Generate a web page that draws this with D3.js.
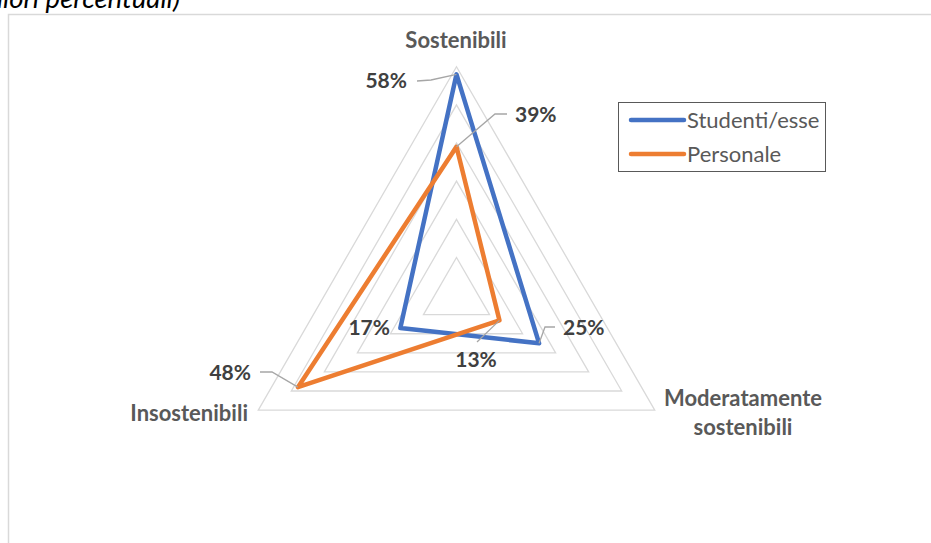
<!DOCTYPE html>
<html><head><meta charset="utf-8">
<script src="https://cdn.jsdelivr.net/npm/d3@7"></script>
<style>html,body{margin:0;padding:0;background:#fff;}svg{display:block;}</style>
</head><body>
<svg id="c" width="931" height="543"></svg>
<script>
const categories = ["Sostenibili", "Moderatamente sostenibili", "Insostenibili"];
const seriesNames = ["Studenti/esse", "Personale"];
const studenti = [58, 25, 17];
const personale = [39, 13, 48];
const gridLevels = [10, 20, 30, 40, 50, 60];
const titleText = "(valori percentuali)";

const colors = ["#4472C4", "#ED7D31"];
const series = [studenti, personale];
const FONT = "Lato, 'Open Sans', sans-serif";

const svg = d3.select("#c");
const cx = 456.5, cy = 295.6, R = 228.9;
const r = d3.scaleLinear().domain([0, 60]).range([0, R]);
const ang = d3.scaleLinear().domain([0, categories.length]).range([-Math.PI/2, 1.5*Math.PI]);
const pt = (i, v) => [cx + r(v)*Math.cos(ang(i)), cy + r(v)*Math.sin(ang(i))];

// title (cut off at top/left, as in the source image)
svg.append("text").attr("x", 180).attr("y", 8).attr("text-anchor", "end")
  .attr("font-family", FONT).attr("font-style", "italic").attr("font-size", 27.5)
  .attr("fill", "#000").text(titleText);

// chart border
svg.append("rect").attr("x", 8.5).attr("y", 14.5).attr("width", 940).attr("height", 540)
  .attr("fill", "none").attr("stroke", "#D9D9D9").attr("stroke-width", 1.5);

// grid
const line = d3.line().curve(d3.curveLinearClosed);
svg.append("g").selectAll("path").data(gridLevels).join("path")
  .attr("d", lv => line(categories.map((c, i) => pt(i, lv))))
  .attr("fill", "none").attr("stroke", "#D9D9D9").attr("stroke-width", 1.3);

// series
svg.append("g").selectAll("path").data(series).join("path")
  .attr("d", s => line(s.map((v, i) => pt(i, v))))
  .attr("fill", "none").attr("stroke", (d, k) => colors[k]).attr("stroke-width", 4.5)
  .attr("stroke-linejoin", "round");

// category labels
const catG = svg.append("g").attr("font-family", FONT).attr("font-weight", "bold")
  .attr("font-size", 22).attr("fill", "#595959");
const catPos = [
  {x: 456, y: 48, a: "middle"},
  {x: 743, y: 406, a: "middle"},
  {x: 248, y: 421, a: "end"}
];
categories.forEach((c, i) => {
  const p = catPos[i];
  const t = catG.append("text").attr("x", p.x).attr("y", p.y).attr("text-anchor", p.a);
  if (c === "Moderatamente sostenibili") {
    t.append("tspan").attr("x", p.x).text("Moderatamente");
    t.append("tspan").attr("x", p.x).attr("dy", 29).text("sostenibili");
  } else t.text(c);
});

// data labels with leader lines
const labelSpec = [
  {s: 0, i: 0, x: 407, y: 88, a: "end", lead: [[417, 81], [431, 80]]},
  {s: 1, i: 0, x: 515, y: 121.5, a: "start", lead: [[507, 114], [495, 114]]},
  {s: 0, i: 1, x: 563, y: 335, a: "start", lead: [[555, 327], [545, 327]]},
  {s: 1, i: 1, x: 476, y: 366.5, a: "middle", lead: [[477, 342]]},
  {s: 0, i: 2, x: 390, y: 335, a: "end", lead: null},
  {s: 1, i: 2, x: 251, y: 380, a: "end", lead: [[260, 372], [272, 372]]}
];
const lblG = svg.append("g");
labelSpec.forEach(l => {
  const v = series[l.s][l.i];
  const p = pt(l.i, v);
  if (l.lead) {
    lblG.append("path").attr("d", d3.line()([...l.lead, p]))
      .attr("fill", "none").attr("stroke", "#A6A6A6").attr("stroke-width", 1.3);
  }
  lblG.append("text").attr("x", l.x).attr("y", l.y).attr("text-anchor", l.a)
    .attr("font-family", FONT).attr("font-weight", "bold").attr("font-size", 21)
    .attr("fill", "#404040").text(v + "%");
});

// legend
const lg = svg.append("g");
lg.append("rect").attr("x", 618.5).attr("y", 102.5).attr("width", 207).attr("height", 69)
  .attr("fill", "#fff").attr("stroke", "#595959").attr("stroke-width", 1);
seriesNames.forEach((n, k) => {
  const y = 120 + k*34;
  lg.append("line").attr("x1", 631).attr("x2", 684).attr("y1", y).attr("y2", y)
    .attr("stroke", colors[k]).attr("stroke-width", 4.5).attr("stroke-linecap", "round");
  lg.append("text").attr("x", 687).attr("y", y + 8).attr("font-family", FONT)
    .attr("font-size", 22).attr("fill", "#595959").text(n);
});
</script>
</body></html>
